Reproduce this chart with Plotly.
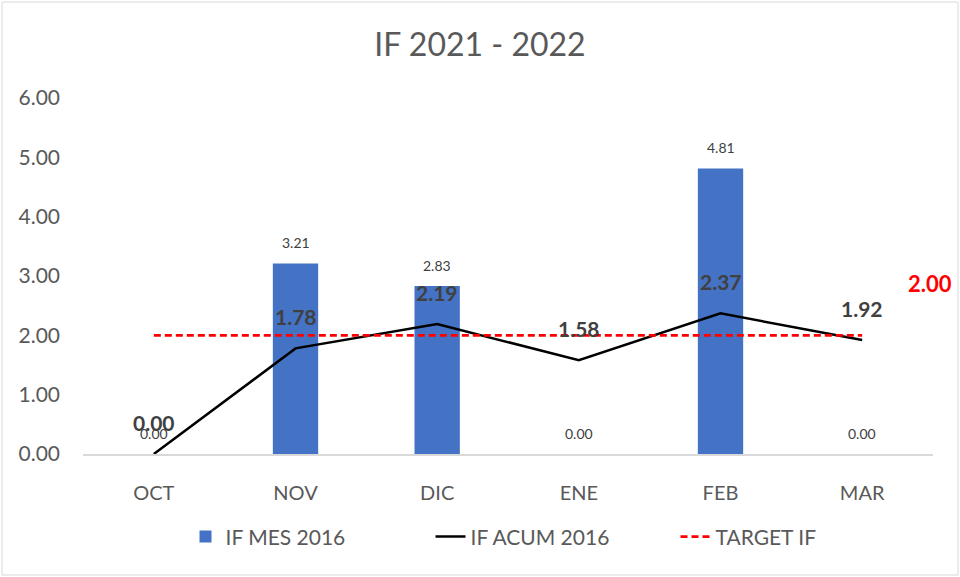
import plotly.graph_objects as go

months = ["OCT", "NOV", "DIC", "ENE", "FEB", "MAR"]
if_mes = [0.00, 3.21, 2.83, 0.00, 4.81, 0.00]
if_acum = [0.00, 1.78, 2.19, 1.58, 2.37, 1.92]
target = [2.00, 2.00, 2.00, 2.00, 2.00, 2.00]
y_ticks = [0, 1, 2, 3, 4, 5, 6]

FONT = "Lato, Carlito, Calibri, sans-serif"
GRAY = "#595959"

fig = go.Figure()
fig.add_trace(go.Bar(x=months, y=if_mes, name="IF MES 2016",
                     marker=dict(color="#4472C4", line=dict(width=0)),
                     width=0.32))
fig.add_trace(go.Scatter(x=months, y=if_acum, name="IF ACUM 2016", mode="lines",
                         line=dict(color="black", width=2.5)))
fig.add_trace(go.Scatter(x=months, y=target, name="TARGET IF", mode="lines",
                         line=dict(color="#FF0000", width=2.75, dash="7px,4px")))

ann = []
for m, v in zip(months, if_mes):
    ann.append(dict(x=m, y=v, text=f"{v:.2f}", showarrow=False, yshift=21,
                    font=dict(family=FONT, size=14, color="#404040")))
for m, v in zip(months, if_acum):
    ann.append(dict(x=m, y=v, text=f"<b>{v:.2f}</b>", showarrow=False, yshift=32,
                    font=dict(family=FONT, size=21, color="#404040")))
ann.append(dict(x=months[-1], y=target[-1], text=f"<b>{target[-1]:.2f}</b>",
                showarrow=False, yshift=52, xshift=68,
                font=dict(family=FONT, size=22, color="#FF0000")))

fig.update_layout(
    width=960, height=577,
    margin=dict(l=83, r=27, t=98, b=123, autoexpand=False),
    paper_bgcolor="white", plot_bgcolor="white",
    font=dict(family=FONT, size=20, color=GRAY),
    title=dict(text="IF 2021 - 2022", x=0.5, xanchor="center", y=1 - 45 / 577,
               yanchor="middle", font=dict(family=FONT, size=32, color=GRAY)),
    showlegend=True,
    legend=dict(orientation="h", x=0.5 + 45 / 850, xanchor="center", y=-0.233,
                yanchor="middle", font=dict(family=FONT, size=21, color=GRAY),
                entrywidth=200, traceorder="normal"),
    annotations=ann,
)
fig.update_xaxes(range=[-0.5, 5.5], autorange=False, showgrid=False, showline=True,
                 linecolor="#D9D9D9", linewidth=1.5, automargin=False,
                 ticks="", ticklabelstandoff=20, tickfont=dict(size=20, color=GRAY),
                 zeroline=False)
fig.update_yaxes(range=[0, 6], tickvals=y_ticks, tickformat=".2f", showgrid=False,
                 zeroline=False, showline=False, ticks="", ticklabelstandoff=22,
                 automargin=False, tickfont=dict(size=21, color=GRAY))
fig.add_shape(type="rect", xref="paper", yref="paper",
              x0=(2 - 83) / 850, x1=(958 - 83) / 850,
              y0=(454 - 575) / 356, y1=(454 - 2) / 356,
              line=dict(color="#D9D9D9", width=1), fillcolor="rgba(0,0,0,0)", layer="below")
fig.write_html("out.html", config={"displayModeBar": False},
               post_script="document.body.style.margin='0';document.body.style.overflow='hidden';")
